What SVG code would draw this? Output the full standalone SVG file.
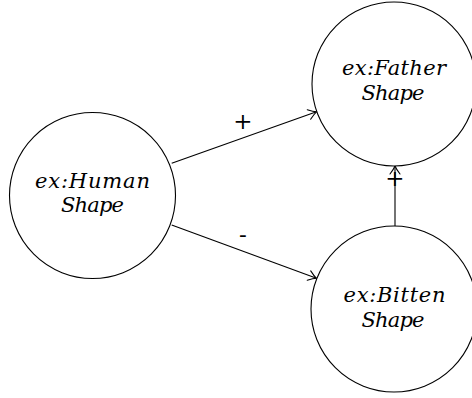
<svg xmlns="http://www.w3.org/2000/svg" width="472" height="398" viewBox="0 0 472 398">
  <style>
    .node { fill: #ffffff; stroke: #000000; stroke-width: 1.1; }
    .label { font-family: "DejaVu Serif", serif; font-style: italic; font-size: 21px; fill: #000000; text-anchor: middle; }
    .edge { fill: none; stroke: #000000; stroke-width: 1.1; }
    .sign { font-family: "DejaVu Serif", serif; font-size: 23px; fill: #000000; text-anchor: middle; }
  </style>
  <defs>
    <marker id="to" markerUnits="userSpaceOnUse" markerWidth="14" markerHeight="14" viewBox="-10 -7 12 14" refX="0" refY="0" orient="auto">
      <path d="M-8,-5 Q-3,-1.2 0,0 Q-3,1.2 -8,5" fill="none" stroke="#000000" stroke-width="1.1" stroke-linecap="round"/>
    </marker>
  </defs>
  <rect width="472" height="398" fill="#ffffff"/>

  <!-- connectors between the shapes, with their signs -->
  <g id="edges">
    <path class="edge" d="M171.7,163.3 L316.5,111.8" marker-end="url(#to)"/>
    <path class="edge" d="M171.7,225 L316.5,278.3" marker-end="url(#to)"/>
    <path class="edge" d="M395,226 L395,166" marker-end="url(#to)"/>
    <text class="sign" x="243" y="128.5">+</text>
    <text class="sign" x="243" y="242">-</text>
    <text class="sign" x="395" y="185.5">+</text>
  </g>

  <g id="human">
    <circle class="node" cx="92.5" cy="195.5" r="83"/>
    <text class="label" x="92.5" y="188" textLength="115">ex:Human</text>
    <text class="label" x="92.5" y="212" textLength="63">Shape</text>
  </g>

  <g id="father">
    <circle class="node" cx="394" cy="84" r="82"/>
    <text class="label" x="394" y="74.5" textLength="104">ex:Father</text>
    <text class="label" x="393" y="99.5" textLength="63">Shape</text>
  </g>

  <g id="bitten">
    <circle class="node" cx="394" cy="309" r="83"/>
    <text class="label" x="394.5" y="301.5" textLength="102">ex:Bitten</text>
    <text class="label" x="393" y="326.5" textLength="63">Shape</text>
  </g>
</svg>
